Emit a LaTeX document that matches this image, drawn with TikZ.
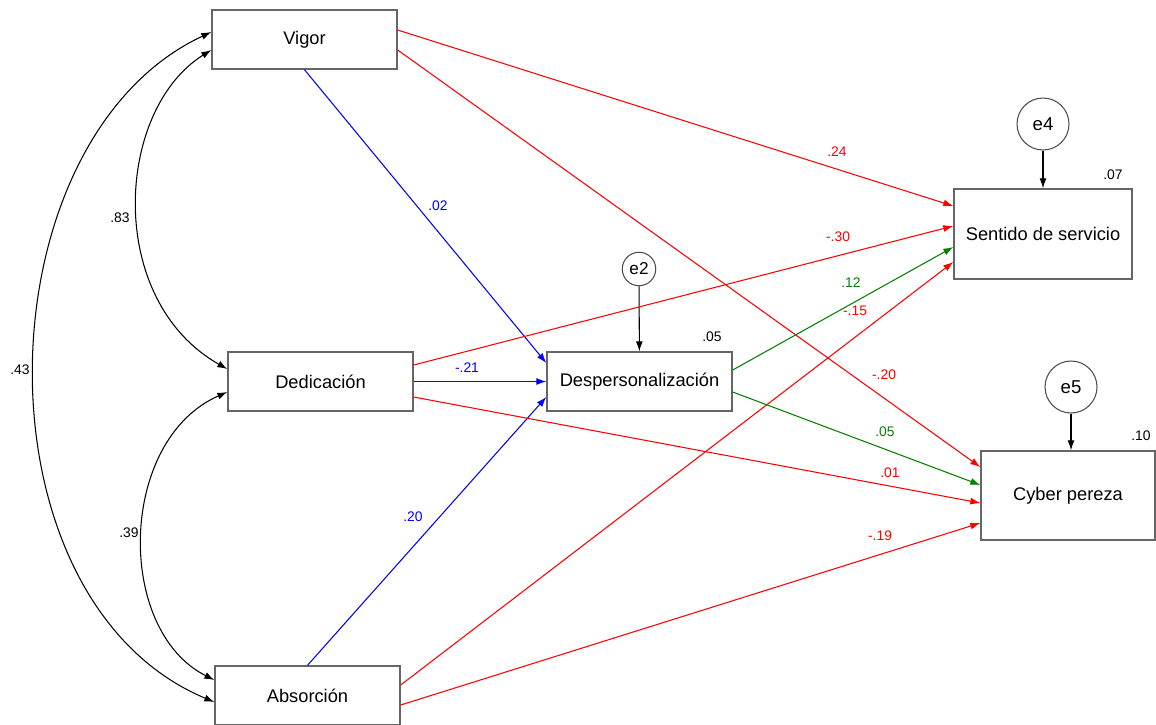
\documentclass[tikz,border=0pt]{standalone}
\usepackage{fontspec}
\setmainfont{Liberation Sans}
\usepackage{tikz}
\usetikzlibrary{arrows.meta}
\usepackage{xcolor}
\definecolor{negred}{RGB}{255,0,0}
\definecolor{dirblue}{RGB}{0,0,255}
\definecolor{medgreen}{RGB}{0,128,0}

\begin{document}
\begin{tikzpicture}[x = 0.02cm, y = -0.02cm,
  var/.style = {draw = black!60, line width = 0.8pt, minimum width = 3.7cm, minimum height = 1.18cm, inner sep = 0pt, font = \fontsize{10.4}{12}\selectfont},
  err/.style = {circle, draw = black!70, line width = 0.6pt, minimum size = 1.04cm, inner sep = 0pt, font = \fontsize{10.6}{12}\selectfont},
  lbl/.style = {inner sep = 0pt, font = \fontsize{7.9}{9}\selectfont},
  eff/.style = {line width = 0.6pt, -{Latex[length = 2mm, width = 1.4mm]}},
  cov/.style = {line width = 0.6pt, {Latex[length = 2mm, width = 1.4mm]}-{Latex[length = 2mm, width = 1.4mm]}}]
\useasboundingbox (0,0) rectangle (1156,724);
\node[var] (Vigor) at (304.5,39.5) {Vigor};
\node[var] (Dedic) at (320.5,381.5) {Dedicación};
\node[var] (Absor) at (307.5,695.5) {Absorción};
\node[var] (Desp) at (639.5,381.5) {Despersonalización};
\node[var, minimum width = 3.56cm, minimum height = 1.8cm] (Sentido) at (1043,234) {Sentido de servicio};
\node[var, minimum width = 3.48cm, minimum height = 1.78cm] (Cyber) at (1068,495.5) {Cyber pereza};
\node[err, minimum size = 0.67cm, font = \fontsize{9.8}{11}\selectfont] (e2) at (639,269) {e2};
\node[err] (e4) at (1043,124) {e4};
\node[err] (e5) at (1071,387) {e5};

\draw[eff] (e2) -- (Desp);
\draw[eff] (e4) -- (Sentido);
\draw[eff] (e5.south) -- (e5.south |- Cyber.north);

\draw[eff, dirblue] (Vigor.south) -- ([yshift = 0.37cm]Desp.west);
\draw[eff, dirblue] (Dedic.east) -- (Desp.west);
\draw[eff, dirblue] (Absor.north) -- ([yshift = -0.31cm]Desp.west);
\draw[eff, negred] ([yshift = 0.19cm]Vigor.east) -- ([yshift = 0.56cm]Sentido.west);
\draw[eff, negred] ([yshift = -0.21cm]Vigor.east) -- ([yshift = 0.57cm]Cyber.west);
\draw[eff, negred] ([yshift = 0.33cm]Dedic.east) -- ([yshift = 0.16cm]Sentido.west);
\draw[eff, negred] ([yshift = -0.31cm]Dedic.east) -- ([yshift = -0.15cm]Cyber.west);
\draw[eff, negred] ([yshift = 0.21cm]Absor.east) -- ([yshift = -0.56cm]Sentido.west);
\draw[eff, negred] ([yshift = -0.19cm]Absor.east) -- ([yshift = -0.55cm]Cyber.west);
\draw[eff, medgreen] ([yshift = 0.23cm]Desp.east) -- ([yshift = -0.26cm]Sentido.west);
\draw[eff, medgreen] ([yshift = -0.21cm]Desp.east) -- ([yshift = 0.21cm]Cyber.west);

\draw[cov] ([yshift = -0.21cm]Vigor.west) .. controls (115,110) and (105,300) .. ([yshift = 0.25cm]Dedic.west);
\draw[cov] ([yshift = -0.21cm]Dedic.west) .. controls (118,440) and (115,630) .. ([yshift = 0.31cm]Absor.west);
\draw[cov] ([yshift = 0.15cm]Vigor.west) .. controls (-20,140) and (-30,600) .. ([yshift = -0.13cm]Absor.west);

\node[lbl] (c83) at (120,218) {.83};
\node[lbl] (c39) at (129,533) {.39};
\node[lbl] (c43) at (20,370) {.43};
\node[lbl, dirblue] (b02) at (438,206) {.02};
\node[lbl, dirblue] (b21) at (467,368) {-.21};
\node[lbl, dirblue] (b20) at (413,517) {.20};
\node[lbl, negred] (r24) at (837,152) {.24};
\node[lbl, negred] (r30) at (838,237) {-.30};
\node[lbl, negred] (r15) at (855,311) {-.15};
\node[lbl, negred] (r20) at (884,375) {-.20};
\node[lbl, negred] (r01) at (890,473) {.01};
\node[lbl, negred] (r19) at (880,536) {-.19};
\node[lbl, medgreen] (g12) at (851,283) {.12};
\node[lbl, medgreen] (g05) at (885,432) {.05};
\node[lbl] (r2Desp) at (712,337) {.05};
\node[lbl] (r2Sentido) at (1113,175) {.07};
\node[lbl] (r2Cyber) at (1141,436) {.10};
\end{tikzpicture}
\end{document}
